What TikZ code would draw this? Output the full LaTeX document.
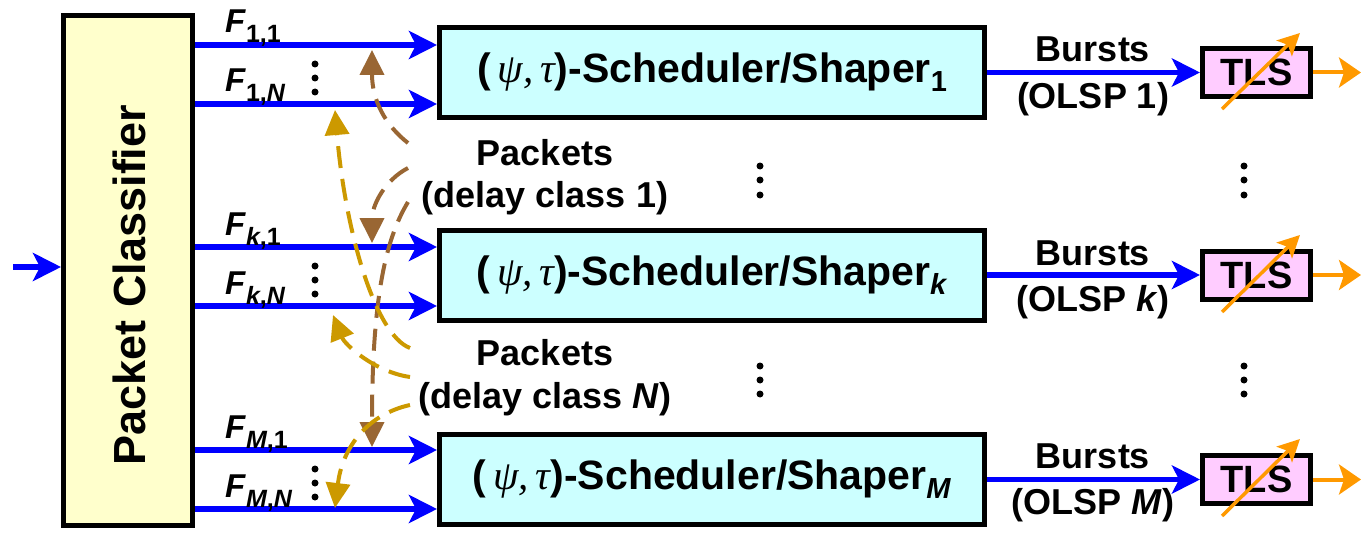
\documentclass[tikz,border=0pt]{standalone}
\usepackage{fontspec}
\setmainfont{Liberation Sans}
\newfontfamily\grk{Liberation Serif}
\usetikzlibrary{arrows.meta}
\definecolor{cblue}{HTML}{0000FF}
\definecolor{cbrown}{HTML}{996633}
\definecolor{cgold}{HTML}{CC9900}
\definecolor{corange}{HTML}{FF9900}
\definecolor{cyellow}{HTML}{FFFFCC}
\definecolor{ccyan}{HTML}{CCFFFF}
\definecolor{cpink}{HTML}{FFCCFF}
\newcommand{\FLab}[1]{\textit{F}\raisebox{-10pt}{\fontsize{25}{25}\selectfont #1}}
\newcommand{\PsiTau}{(\,{\grk\mdseries\itshape ψ,\,τ})}
\newcommand{\SchedSub}[1]{\raisebox{-9pt}{\fontsize{29}{29}\selectfont #1}}
\begin{document}
\begin{tikzpicture}[x=1pt,y=-1pt,
  box/.style={draw=black, line width=5pt, inner sep=0pt},
  flow/.style={draw=cblue, line width=5.5pt, -{Stealth[length=28pt,width=28pt,inset=7pt]}},
  pkone/.style={draw=cbrown, line width=4pt, dash pattern=on 22pt off 11pt, -{Triangle[length=25pt,width=24pt]}},
  pkn/.style={draw=cgold, line width=4pt, dash pattern=on 22pt off 11pt, -{Triangle[length=25pt,width=24pt]}},
  lbl/.style={font=\fontsize{36}{40}\selectfont\bfseries, inner sep=0pt, anchor=base},
  flab/.style={font=\fontsize{33}{36}\selectfont\bfseries, inner sep=0pt, anchor=base west},
  outarr/.style={draw=corange, line width=4pt, -{Stealth[length=22pt,width=30pt,inset=5pt]}},
  tunarr/.style={draw=corange, line width=3.5pt, -{Stealth[length=22pt,width=22pt,inset=5pt]}},
  sched/.style={box, fill=ccyan, minimum width=545pt, minimum height=90pt, font=\fontsize{41}{45}\selectfont\bfseries},
  tls/.style={box, fill=cpink, minimum width=108pt, minimum height=48pt, font=\fontsize{38}{40}\selectfont\bfseries},
  dotc/.style={fill=black}
]
\useasboundingbox (0,0) rectangle (1361,535);

% Packet classifier
\node[box, fill=cyellow, minimum width=129pt, minimum height=510pt] (pc) at (128,270.5) {};
\node[font=\fontsize{45}{48}\selectfont\bfseries, rotate=90, anchor=base, inner sep=0pt] (pcl) at (145,285) {Packet Classifier};

% schedulers
\node[sched] (s1) at (712,72.5) {\PsiTau-Scheduler/Shaper\SchedSub{1}};
\node[sched] (sk) at (712,275) {\PsiTau-Scheduler/Shaper\SchedSub{\textit{k}}};
\node[sched] (sm) at (712,479.5) {\PsiTau-Scheduler/Shaper\SchedSub{\textit{M}}};

% TLS
\node[tls] (t1) at (1256.5,72.5) {TLS};
\node[tls] (tk) at (1256.5,275) {TLS};
\node[tls] (tm) at (1256.5,479.5) {TLS};

% coordinates
\coordinate (inp) at (13,267);
\coordinate (y11) at (0,45);
\coordinate (y1n) at (0,104);
\coordinate (yk1) at (0,247);
\coordinate (ykn) at (0,306);
\coordinate (ym1) at (0,450);
\coordinate (ymn) at (0,509);

% input
\draw[flow] (inp) -- (pc.west |- inp);

% flows
\draw[flow] (pc.east |- y11) -- (s1.west |- y11);
\draw[flow] (pc.east |- y1n) -- (s1.west |- y1n);
\draw[flow] (pc.east |- yk1) -- (sk.west |- yk1);
\draw[flow] (pc.east |- ykn) -- (sk.west |- ykn);
\draw[flow] (pc.east |- ym1) -- (sm.west |- ym1);
\draw[flow] (pc.east |- ymn) -- (sm.west |- ymn);

% bursts
\draw[flow] (s1.east) -- (t1.west);
\draw[flow] (sk.east) -- (tk.west);
\draw[flow] (sm.east) -- (tm.west);

% outputs
\coordinate (o1) at (1361,72.5);
\coordinate (ok) at (1361,275);
\coordinate (om) at (1361,479.5);
\draw[outarr] (t1.east) -- (o1);
\draw[outarr] (tk.east) -- (ok);
\draw[outarr] (tm.east) -- (om);

% tunable arrows
\coordinate (a1) at (1222,109); \coordinate (b1) at (1300,33);
\coordinate (ak) at (1222,312); \coordinate (bk) at (1300,235);
\coordinate (am) at (1222,516); \coordinate (bm) at (1300,439);
\draw[tunarr] (a1) -- (b1);
\draw[tunarr] (ak) -- (bk);
\draw[tunarr] (am) -- (bm);

% F labels
\node[flab] (f11) at (225,33) {\FLab{1,1}};
\node[flab] (f1n) at (225,92) {\FLab{1,\textit{N}}};
\node[flab] (fk1) at (225,235) {\FLab{\textit{k},1}};
\node[flab] (fkn) at (225,294) {\FLab{\textit{k},\textit{N}}};
\node[flab] (fm1) at (225,438) {\FLab{\textit{M},1}};
\node[flab] (fmn) at (225,497) {\FLab{\textit{M},\textit{N}}};

% vertical dots
\foreach \yy in {104,306,509}{
  \fill[dotc] (315,\yy-40) circle (3.5pt);
  \fill[dotc] (315,\yy-26) circle (3.5pt);
  \fill[dotc] (315,\yy-12) circle (3.5pt);
}
\foreach \xx in {760,1244}{
  \foreach \yy in {166,180,195,366,380,394}{
    \fill[dotc] (\xx,\yy) circle (3.5pt);
  }
}

% burst labels
\node[lbl] (bu1) at (1093,62) {Bursts};
\node[lbl] (ol1) at (1093,108) {(OLSP 1)};
\node[lbl] (buk) at (1093,265) {Bursts};
\node[lbl] (olk) at (1093,311) {(OLSP \textit{k})};
\node[lbl] (bum) at (1093,468) {Bursts};
\node[lbl] (olm) at (1093,514) {(OLSP \textit{M})};

% packet labels
\node[lbl] (p1a) at (545,165) {Packets};
\node[lbl] (p1b) at (545,207) {(delay class 1)};
\node[lbl] (pna) at (545,365) {Packets};
\node[lbl] (pnb) at (545,408) {(delay class \textit{N})};

% delay class 1 (brown)
\coordinate (c1a) at (408,143);
\coordinate (c1b) at (408,168);
\coordinate (c1c) at (408,202);
\coordinate (e1a) at (372,50);
\coordinate (e1b) at (372,243);
\coordinate (e1c) at (372,447);
\draw[pkone] (c1a) .. controls (385,125) and (372,100) .. (e1a);
\draw[pkone] (c1b) .. controls (385,180) and (372,205) .. (e1b);
\draw[pkone] (c1c) .. controls (385,240) and (372,300) .. (e1c);

% delay class N (gold)
\coordinate (cna) at (410,348);
\coordinate (cnb) at (410,377);
\coordinate (cnc) at (410,405);
\coordinate (ena) at (335,110);
\coordinate (enb) at (333,315);
\coordinate (enc) at (335,508);
\draw[pkn] (cna) .. controls (375,335) and (345,230) .. (ena);
\draw[pkn] (cnb) .. controls (375,372) and (345,345) .. (enb);
\draw[pkn] (cnc) .. controls (365,415) and (342,450) .. (enc);
\end{tikzpicture}
\end{document}
